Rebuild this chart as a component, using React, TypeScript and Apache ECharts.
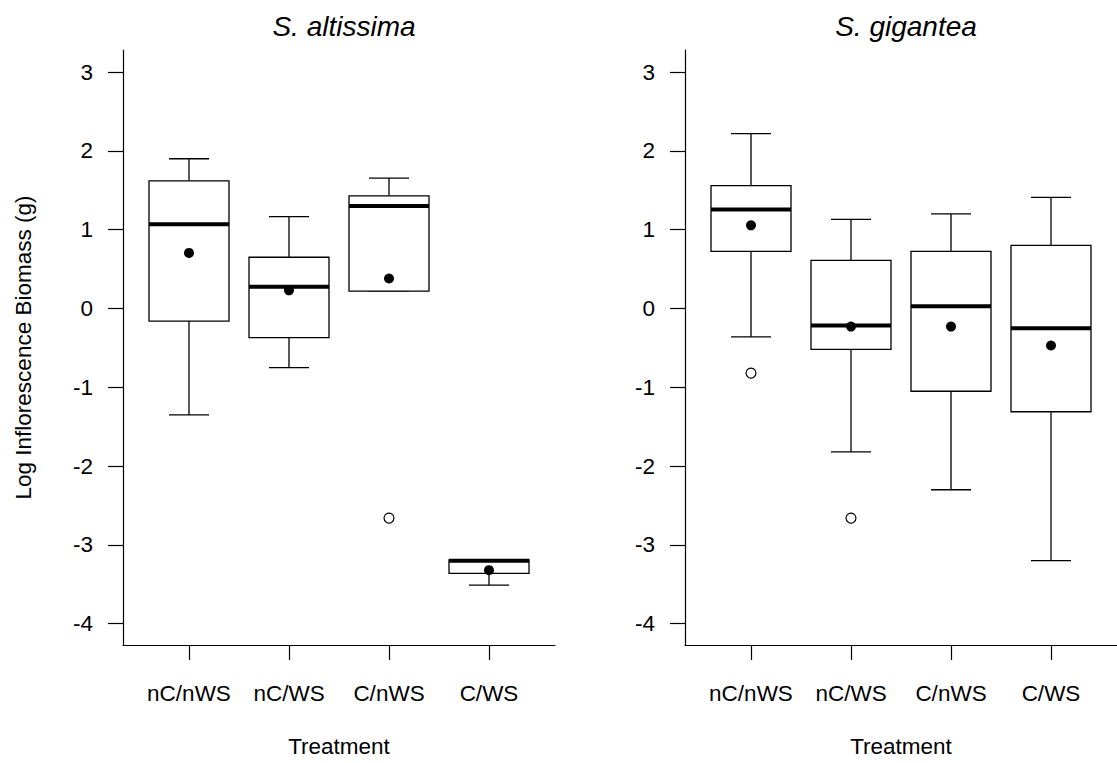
import React, { useEffect, useRef } from "react";
import * as echarts from "echarts";

const categories = ["nC/nWS", "nC/WS", "C/nWS", "C/WS"];
const yTicks = [-4, -3, -2, -1, 0, 1, 2, 3];
const xTicks = [1, 2, 3, 4];
const titles = ["S. altissima", "S. gigantea"];

// [lower whisker, Q1, median, Q3, upper whisker]
const altissimaBoxes = [
  [-1.35, -0.16, 1.07, 1.62, 1.9],
  [-0.75, -0.37, 0.275, 0.65, 1.165],
  [0.22, 0.22, 1.3, 1.43, 1.655],
  [-3.51, -3.36, -3.2, -3.19, -3.19],
];
const altissimaMeans = [0.705, 0.23, 0.38, -3.32];
const altissimaOutliers = [[3, -2.66]];

const giganteaBoxes = [
  [-0.36, 0.725, 1.255, 1.56, 2.22],
  [-1.82, -0.52, -0.215, 0.61, 1.13],
  [-2.3, -1.05, 0.03, 0.725, 1.2],
  [-3.2, -1.31, -0.25, 0.8, 1.41],
];
const giganteaMeans = [1.055, -0.23, -0.23, -0.47];
const giganteaOutliers = [[1, -0.82], [2, -2.66]];

const FONT = "'Liberation Sans', Arial, Helvetica, sans-serif";
const FS = 22.5;

function boxRender(params: any, api: any) {
  const x = api.value(0);
  const lo = api.value(1);
  const q1 = api.value(2);
  const med = api.value(3);
  const q3 = api.value(4);
  const hi = api.value(5);
  const [cx, yLo] = api.coord([x, lo]);
  const yQ1 = api.coord([x, q1])[1];
  const yMed = api.coord([x, med])[1];
  const yQ3 = api.coord([x, q3])[1];
  const yHi = api.coord([x, hi])[1];
  const halfBox = api.size([0.4, 0])[0];
  const halfCap = api.size([0.2, 0])[0];
  const ls = { stroke: "#000", lineWidth: 1.3, fill: null };
  return {
    type: "group",
    children: [
      { type: "line", shape: { x1: cx, y1: yHi, x2: cx, y2: yQ3 }, style: ls },
      { type: "line", shape: { x1: cx, y1: yQ1, x2: cx, y2: yLo }, style: ls },
      { type: "line", shape: { x1: cx - halfCap, y1: yHi, x2: cx + halfCap, y2: yHi }, style: ls },
      { type: "line", shape: { x1: cx - halfCap, y1: yLo, x2: cx + halfCap, y2: yLo }, style: ls },
      {
        type: "rect",
        shape: { x: cx - halfBox, y: yQ3, width: 2 * halfBox, height: yQ1 - yQ3 },
        style: { fill: "#fff", stroke: "#000", lineWidth: 1.3 },
      },
      {
        type: "line",
        shape: { x1: cx - halfBox, y1: yMed, x2: cx + halfBox, y2: yMed },
        style: { stroke: "#000", lineWidth: 4, lineCap: "butt" },
      },
    ],
  };
}

function makeAxes(idx: number, withYName: boolean) {
  const xAxis = {
    type: "value",
    gridIndex: idx,
    min: 0.34,
    max: 4.66,
    name: "Treatment",
    nameLocation: "middle",
    nameGap: 90,
    nameTextStyle: { color: "#000", fontFamily: FONT, fontSize: FS },
    axisLine: { show: true, onZero: false, lineStyle: { color: "#000", width: 1.2 } },
    axisTick: { show: true, customValues: xTicks, length: 15, lineStyle: { color: "#000", width: 1.2 } },
    axisLabel: {
      customValues: xTicks,
      margin: 37,
      color: "#000",
      fontFamily: FONT,
      fontSize: FS,
      formatter: (v: number) => categories[Math.round(v) - 1] ?? "",
    },
    splitLine: { show: false },
  };
  const yAxis: any = {
    type: "value",
    gridIndex: idx,
    min: -4.27,
    max: 3.28,
    axisLine: { show: true, onZero: false, lineStyle: { color: "#000", width: 1.2 } },
    axisTick: { show: true, customValues: yTicks, length: 15, lineStyle: { color: "#000", width: 1.2 } },
    axisLabel: {
      customValues: yTicks,
      margin: 30,
      color: "#000",
      fontFamily: FONT,
      fontSize: FS,
    },
    splitLine: { show: false },
  };
  if (withYName) {
    yAxis.name = "Log Inflorescence Biomass (g)";
    yAxis.nameLocation = "middle";
    yAxis.nameRotate = 90;
    yAxis.nameGap = 88;
    yAxis.nameTextStyle = { color: "#000", fontFamily: FONT, fontSize: FS };
  }
  return { xAxis, yAxis };
}

function panelSeries(idx: number, boxes: number[][], means: number[], outliers: number[][]) {
  return [
    {
      type: "custom",
      xAxisIndex: idx,
      yAxisIndex: idx,
      renderItem: boxRender,
      data: boxes.map((b, i) => [xTicks[i], ...b]),
      encode: { x: 0, y: [1, 2, 3, 4, 5] },
      z: 2,
    },
    {
      type: "scatter",
      xAxisIndex: idx,
      yAxisIndex: idx,
      symbol: "circle",
      symbolSize: 10,
      itemStyle: { color: "#000", opacity: 1 },
      data: means.map((m, i) => [xTicks[i], m]),
      z: 3,
    },
    {
      type: "scatter",
      xAxisIndex: idx,
      yAxisIndex: idx,
      symbol: "circle",
      symbolSize: 10,
      itemStyle: { color: "#fff", borderColor: "#000", borderWidth: 1.2, opacity: 1 },
      data: outliers,
      z: 3,
    },
  ];
}

export default function App() {
  const ref = useRef<HTMLDivElement>(null);
  useEffect(() => {
    if (!ref.current) return;
    const chart = echarts.init(ref.current, null, { renderer: "svg" });
    const a0 = makeAxes(0, true);
    const a1 = makeAxes(1, false);
    chart.setOption({
      animation: false,
      backgroundColor: "#fff",
      title: [
        {
          text: titles[0],
          left: 339,
          top: 7,
          textAlign: "center",
          textStyle: { fontFamily: FONT, fontSize: 28, fontStyle: "italic", fontWeight: "normal", color: "#000" },
        },
        {
          text: titles[1],
          left: 901,
          top: 7,
          textAlign: "center",
          textStyle: { fontFamily: FONT, fontSize: 28, fontStyle: "italic", fontWeight: "normal", color: "#000" },
        },
      ],
      grid: [
        { left: 123, top: 50, width: 432, height: 596 },
        { left: 685, top: 50, width: 432, height: 596 },
      ],
      xAxis: [a0.xAxis, a1.xAxis],
      yAxis: [a0.yAxis, a1.yAxis],
      series: [
        ...panelSeries(0, altissimaBoxes, altissimaMeans, altissimaOutliers),
        ...panelSeries(1, giganteaBoxes, giganteaMeans, giganteaOutliers),
      ],
    });
    return () => chart.dispose();
  }, []);
  return (
    <div
      ref={ref}
      style={{ position: "fixed", left: 0, top: 0, width: 1117, height: 763, background: "#fff" }}
    />
  );
}
